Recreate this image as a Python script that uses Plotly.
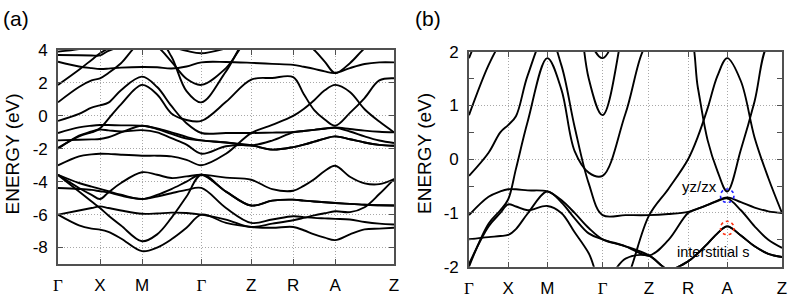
import plotly.graph_objects as go

# k-path positions (common sampling grid along Γ-X-M-Γ-Z-R-A-Z)
K = [0, 0.25, 0.4, 0.5, 0.6, 0.75, 1.0, 1.18, 1.35, 1.53, 1.707, 2.0, 2.3, 2.55, 2.8, 2.925,
     3.05, 3.175, 3.3, 3.475, 3.65, 3.825, 4.0]
tick_k = [0, 0.5, 1.0, 1.707, 2.3, 2.8, 3.3, 4.0]
tick_names = ["Γ", "X", "M", "Γ", "Z", "R", "A", "Z"]

# band energies (eV) sampled on K
band_01 = [3.9, 4.05, 4.25, 4.4, 4.55, 4.8, 5.0, 5.0, 5.0, 5.0, 5.0, 5.0, 5.0, 5.0, 5.0, 5.0, 5.0, 5.0, 5.0, 5.0, 5.0, 5.0, 5.0]
band_02 = [3.7, 3.68, 3.67, 3.67, 3.95, 4.2, 4.6, 4.5, 4.2, 3.95, 3.8, 4.1, 4.6, 4.8, 4.8, 4.8, 4.8, 4.8, 4.8, 4.8, 4.8, 4.8, 4.8]
band_03 = [3.29, 3.0, 2.9, 2.85, 2.87, 2.93, 2.97, 2.95, 2.88, 3.0, 3.25, 3.27, 3.22, 3.16, 3.1, 2.98, 2.85, 2.7, 2.6, 2.9, 3.15, 3.25, 3.25]
band_04 = [1.88, 2.8, 3.4, 3.8, 4.1, 4.5, 4.8, 4.8, 3.6, 1.5, 0.82, 2.7, 5.0, 5.0, 5.0, 5.0, 5.0, 5.0, 5.0, 5.0, 5.0, 5.0, 5.0]
band_05 = [0.82, 1.75, 2.15, 2.28, 2.6, 3.2, 4.5, 4.2, 3.3, 2.25, 1.88, 2.9, 4.8, 4.7, 4.6, 4.5, 4.0, 3.3, 2.6, 3.2, 4.1, 4.7, 4.9]
band_06 = [-0.31, 0.12, 0.5, 0.635, 0.8, 1.56, 2.38, 1.75, 0.6, -0.45, -1.04, -1.04, -1.04, -1.02, -0.98, -0.92, -0.85, -0.77, -0.71, -0.8, -0.9, -0.97, -1.0]
band_07 = [-2.0, -1.2, -0.95, -0.75, -0.18, 0.7, 1.88, 1.3, 0.15, -0.25, -0.31, 0.85, 2.2, 2.3, 2.35, 1.33, 0.35, -0.22, -0.6, 0.18, 1.08, 2.15, 2.28]
band_08 = [-1.04, -0.7, -0.6, -0.56, -0.56, -0.58, -0.6, -0.76, -1.0, -1.28, -1.49, -1.62, -1.79, -2.05, -1.9, -1.75, -1.57, -1.38, -1.25, -1.42, -1.62, -1.76, -1.82]
band_09 = [-1.49, -1.45, -1.43, -1.41, -1.3, -1.01, -0.6, -0.8, -1.1, -1.38, -1.49, -1.62, -1.79, -1.5, -1.0, -0.92, -0.85, -0.78, -0.73, -0.95, -1.25, -1.5, -1.65]
band_10 = [-1.95, -1.25, -1.0, -0.84, -0.88, -0.95, -0.87, -1.0, -1.36, -1.75, -2.3, -1.85, -1.8, -2.05, -1.9, -1.75, -1.57, -1.38, -1.25, -1.42, -1.62, -1.76, -1.82]
band_11 = [-3.01, -2.46, -2.34, -2.30, -2.31, -2.36, -2.42, -2.42, -2.46, -2.67, -3.0, -2.3, -1.05, -0.55, 0.0, 0.42, 0.95, 1.55, 1.88, 1.45, 0.4, -0.35, -1.0]
band_12 = [-3.58, -4.08, -4.3, -4.44, -4.58, -4.79, -5.05, -4.8, -4.45, -4.0, -3.58, -4.6, -5.45, -5.15, -5.09, -5.15, -5.2, -5.25, -5.29, -5.35, -5.4, -5.43, -5.45]
band_13 = [-3.58, -4.38, -4.8, -5.05, -4.65, -4.08, -3.43, -3.58, -3.78, -3.68, -3.58, -3.75, -3.88, -4.45, -4.55, -4.25, -3.85, -3.35, -3.03, -3.7, -4.1, -4.15, -3.84]
band_14 = [-4.38, -4.44, -4.5, -4.58, -4.65, -4.85, -5.05, -4.9, -4.7, -4.5, -4.38, -5.6, -6.5, -6.3, -6.1, -6.15, -6.2, -6.23, -6.26, -6.3, -6.45, -6.55, -6.6]
band_15 = [-3.6, -4.6, -5.2, -5.6, -6.05, -6.66, -7.62, -7.2, -6.2, -4.9, -3.58, -4.6, -5.45, -5.15, -5.09, -5.15, -5.2, -5.25, -5.29, -5.35, -5.4, -5.43, -5.45]
band_16 = [-6.0, -5.75, -5.6, -5.5, -5.6, -5.75, -5.95, -5.93, -5.88, -5.9, -6.0, -6.3, -6.75, -6.55, -6.34, -6.2, -6.05, -5.92, -5.8, -5.85, -5.55, -4.75, -3.84]
band_17 = [-6.0, -6.65, -6.85, -6.91, -7.05, -7.45, -8.22, -8.0, -7.5, -6.8, -6.0, -6.5, -6.75, -6.8, -6.75, -6.95, -7.2, -7.4, -7.55, -7.2, -6.9, -6.85, -6.8]

bands = [band_01, band_02, band_03, band_04, band_05, band_06, band_07, band_08, band_09,
         band_10, band_11, band_12, band_13, band_14, band_15, band_16, band_17]

# panel y ticks
a_ticks = [-8, -6, -4, -2, 0, 2, 4]
b_ticks = [-2, -1, 0, 1, 2]

# markers in panel (b): orbital labels at A
k_A = 3.3
E_yzzx = -0.68
E_s = -1.28

FONT = "Liberation Sans, Arial, sans-serif"
SERIF = "Liberation Serif, Times New Roman, serif"
FRAME = "#505050"
GRID = "#a8a8a8"

fig = go.Figure()
for xa, ya in (("x", "y"), ("x2", "y2")):
    for b in bands:
        fig.add_trace(go.Scatter(x=K, y=b, mode="lines", xaxis=xa, yaxis=ya,
                                 line=dict(color="black", width=1.9, shape="spline", smoothing=1.0),
                                 hoverinfo="skip", showlegend=False))

tick_text = [f'<span style="font-family:{SERIF}">Γ</span>' if t == "Γ" else t for t in tick_names]

xcommon = dict(range=[0, 4], tickvals=tick_k, ticktext=tick_text, showgrid=True, automargin=False,
               gridcolor=GRID, griddash="1px,2px", gridwidth=1, showline=True, mirror="ticks",
               linecolor=FRAME, linewidth=1.6, ticks="inside", ticklen=5, tickcolor=FRAME,
               tickfont=dict(family=FONT, size=17, color="black"), zeroline=False,
               ticklabelstandoff=5)
ycommon = dict(showgrid=True, gridcolor=GRID, griddash="1px,2px", gridwidth=1, showline=True,
               automargin=False, mirror="ticks", linecolor=FRAME, linewidth=1.6, ticks="inside",
               ticklen=5, tickcolor=FRAME, tickfont=dict(family=FONT, size=17, color="black"),
               zeroline=False, ticklabelstandoff=5)

fig.update_layout(
    width=789, height=300, margin=dict(l=0, r=0, t=0, b=0, autoexpand=False),
    paper_bgcolor="white", plot_bgcolor="white",
    xaxis=dict(domain=[58/789, 394/789], anchor="y", **xcommon),
    yaxis=dict(domain=[36/300, 250/300], anchor="x", range=[-9, 4], tickvals=a_ticks,
               ticktext=[str(t) for t in a_ticks], **ycommon),
    xaxis2=dict(domain=[469/789, 782/789], anchor="y2", **xcommon),
    yaxis2=dict(domain=[33.3/300, 248.3/300], anchor="x2", range=[-2, 2], tickvals=b_ticks,
                ticktext=[str(t) for t in b_ticks],
                minor=dict(ticks="inside", ticklen=5, tickcolor=FRAME, dtick=0.5, showgrid=False),
                **ycommon),
)

for txt, px in (("(a)", 1), ("(b)", 413)):
    fig.add_annotation(text=txt, xref="paper", yref="paper", x=px/789, y=1 - 18/300, xanchor="left",
                       yanchor="middle", showarrow=False, font=dict(family=FONT, size=21, color="black"))
for cx in (11.5, 424):
    fig.add_annotation(text="ENERGY (eV)", xref="paper", yref="paper", x=cx/789, y=1 - 154/300,
                       xanchor="center", yanchor="middle", textangle=-90, showarrow=False,
                       font=dict(family=FONT, size=19, color="black"))

fig.add_annotation(text="yz/zx", xref="x2", yref="y2", x=k_A - 0.35, y=E_yzzx + 0.18,
                   showarrow=False, font=dict(family=FONT, size=15, color="black"))
fig.add_annotation(text="interstitial s", xref="x2", yref="y2", x=k_A - 0.17, y=E_s - 0.45,
                   showarrow=False, font=dict(family=FONT, size=14.5, color="black"))
rx, ry = 0.086, 0.125
fig.add_shape(type="circle", xref="x2", yref="y2", x0=k_A - rx, x1=k_A + rx,
              y0=E_yzzx - ry, y1=E_yzzx + ry, line=dict(color="#2020ff", width=1.6, dash="dot"))
fig.add_shape(type="circle", xref="x2", yref="y2", x0=k_A - rx, x1=k_A + rx,
              y0=E_s - ry, y1=E_s + ry, line=dict(color="#ff3010", width=1.6, dash="dot"))

fig.write_html("out.html", config={"displayModeBar": False},
               post_script="document.body.style.margin='0';document.body.style.overflow='hidden';")
